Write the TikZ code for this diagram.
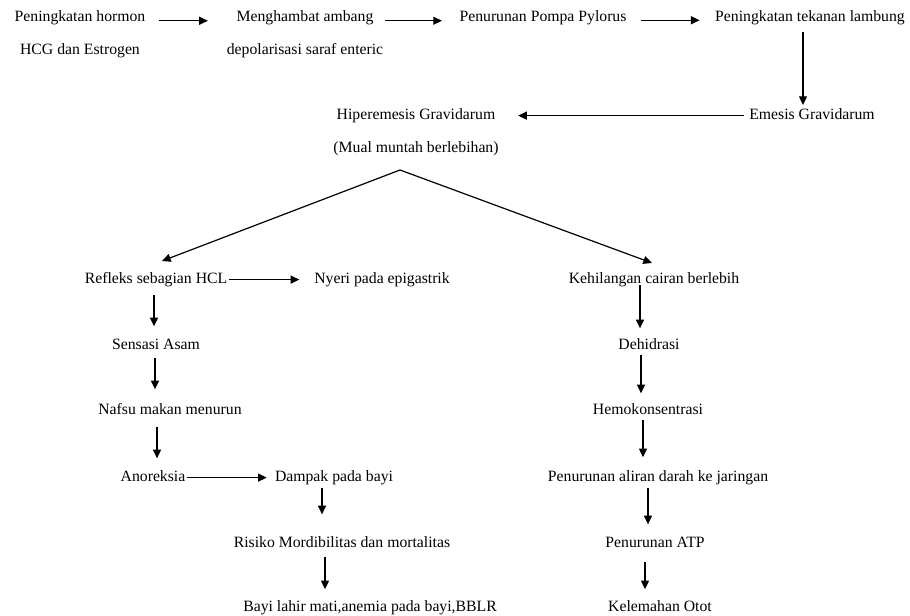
\documentclass[tikz,border=0pt]{standalone}
\usepackage{fontspec}
\setmainfont{Liberation Serif}
\usetikzlibrary{arrows.meta,calc}
\tikzset{
  box/.style={inner sep=1pt,yshift=-1.2pt,text height=8pt,text depth=2.5pt,font=\fontsize{11.8}{14}\selectfont},
  twobox/.style={inner sep=1pt,yshift=-1.2pt,align=center,font=\fontsize{11.8}{14}\selectfont},
  arr/.style={line width=0.9pt,-{Triangle[length=6.5pt,width=6pt]}},
}
\begin{document}
\begin{tikzpicture}[x=0.75pt,y=-0.75pt]
  \useasboundingbox (0,0) rectangle (910,616);
  % top row
  \node[twobox] (hormon) at (80,32.5) {Peningkatan hormon\\[10.5pt]HCG dan Estrogen};
  \node[twobox] (enteric) at (305,32.5) {Menghambat ambang\\[10.5pt]depolarisasi saraf enteric};
  \node[box] (pylorus) at (543,16) {Penurunan Pompa Pylorus};
  \node[box] (lambung) at (810,16) {Peningkatan tekanan lambung};
  \node[box] (emesis) at (812,114) {Emesis Gravidarum};
  \node[twobox] (hiper) at (416,130.5) {Hiperemesis Gravidarum\\[10.5pt](Mual muntah berlebihan)};
  \coordinate (apex) at (400,170);
  % left branch
  \node[box] (refleks) at (156,278) {Refleks sebagian HCL};
  \node[box] (nyeri) at (382,278) {Nyeri pada epigastrik};
  \node[box] (asam) at (156,344) {Sensasi Asam};
  \node[box] (nafsu) at (170,409) {Nafsu makan menurun};
  \node[box] (anoreksia) at (153,476) {Anoreksia};
  \node[box] (dampak) at (334,476) {Dampak pada bayi};
  \node[box] (risiko) at (342,542) {Risiko Mordibilitas dan mortalitas};
  \node[box] (bayi) at (370,606) {Bayi lahir mati,anemia pada bayi,BBLR};
  % right branch
  \node[box] (cairan) at (654,278) {Kehilangan cairan berlebih};
  \node[box] (dehidrasi) at (649,344) {Dehidrasi};
  \node[box] (hemo) at (648,409) {Hemokonsentrasi};
  \node[box] (aliran) at (658,476) {Penurunan aliran darah ke jaringan};
  \node[box] (atp) at (655,542) {Penurunan ATP};
  \node[box] (otot) at (660,606) {Kelemahan Otot};

  \draw[arr,shorten <=9pt,shorten >=13pt] ([yshift=10pt]hormon.east) -- ([yshift=10pt]enteric.west);
  \draw[arr,shorten >=12pt] ([yshift=10pt]enteric.east) -- ([yshift=10pt]enteric.east -| pylorus.west);
  \draw[arr,shorten <=9.5pt,shorten >=10.5pt] ([yshift=-2pt]pylorus.east) -- ([yshift=-2pt]lambung.west);
  \draw[arr,shorten <=4.5pt,shorten >=1.5pt] ([xshift=-5.25pt]lambung.south) -- ([xshift=-5.25pt]lambung.south |- emesis.north);
  \draw[arr,shorten <=3pt,shorten >=13.5pt] (emesis.west) -- (emesis.west -| hiper.east);
  \draw[arr] (apex) -- ([xshift=4.5pt,yshift=7.5pt]refleks.north);
  \draw[arr] (apex) -- ([xshift=-1.5pt,yshift=6pt]cairan.north);

  \draw[arr,shorten >=10pt] (refleks.east) -- (nyeri.west);
  \draw[arr,shorten <=5pt,shorten >=8pt] ([xshift=-1.5pt]refleks.south) -- ([xshift=-1.5pt]refleks.south |- asam.north);
  \draw[arr,shorten <=2.8pt,shorten >=9.5pt] ([xshift=-0.75pt]asam.south) -- ([xshift=-0.75pt]asam.south |- nafsu.north);
  \draw[arr,shorten <=5.8pt,shorten >=8pt] ([xshift=3pt]anoreksia.north |- nafsu.south) -- ([xshift=3pt]anoreksia.north);
  \draw[arr,shorten >=5pt] (anoreksia.east) -- (dampak.west);
  \draw[arr,shorten <=1.3pt,shorten >=15.5pt] ([xshift=-9pt]dampak.south) -- ([xshift=-9pt]dampak.south |- risiko.north);
  \draw[arr,shorten <=3.5pt,shorten >=7.3pt] ([xshift=-12.75pt]risiko.south) -- ([xshift=-12.75pt]risiko.south |- bayi.north);

  \draw[arr,shorten <=-2.5pt,shorten >=6.5pt] ([xshift=-10.5pt]cairan.south) -- ([xshift=-10.5pt]cairan.south |- dehidrasi.north);
  \draw[arr,shorten <=0.5pt,shorten >=6.5pt] ([xshift=-6pt]dehidrasi.south) -- ([xshift=-6pt]dehidrasi.south |- hemo.north);
  \draw[arr,shorten <=0.5pt,shorten >=8.8pt] ([xshift=-3.75pt]hemo.south) -- ([xshift=-3.75pt]hemo.south |- aliran.north);
  \draw[arr,shorten <=1.3pt,shorten >=8pt] ([xshift=-7.5pt]aliran.south) -- ([xshift=-7.5pt]aliran.south |- atp.north);
  \draw[arr,shorten <=7.3pt,shorten >=7.3pt] ([xshift=-7.5pt]atp.south) -- ([xshift=-7.5pt]atp.south |- otot.north);
\end{tikzpicture}
\end{document}
